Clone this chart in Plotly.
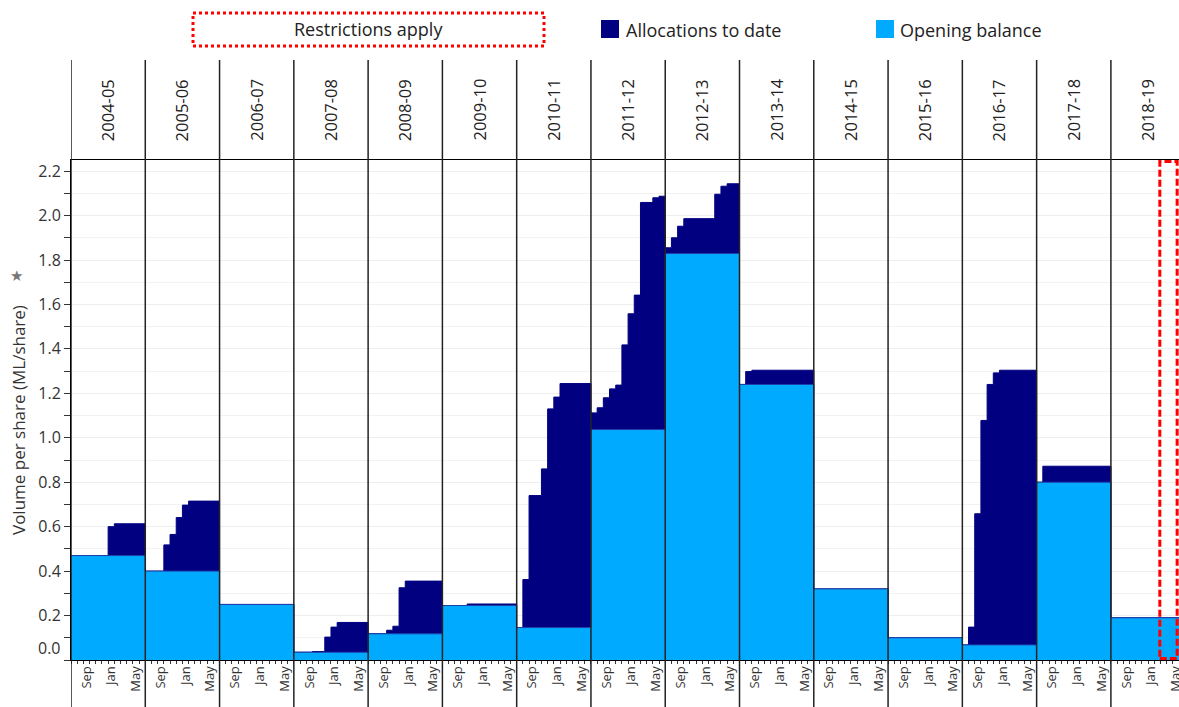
import plotly.graph_objects as go

# ---------------- data ----------------
years = ['2004-05', '2005-06', '2006-07', '2007-08', '2008-09', '2009-10', '2010-11',
         '2011-12', '2012-13', '2013-14', '2014-15', '2015-16', '2016-17', '2017-18', '2018-19']

# opening balance for each water year (ML/share)
opening_balance = [0.47, 0.40, 0.25, 0.035, 0.118, 0.245, 0.146,
                   1.037, 1.829, 1.240, 0.32, 0.10, 0.068, 0.80, 0.19]

# month (0 = Jul) at which each cumulative total step begins, per year
step_month = [
    [0, 6, 7],
    [0, 3, 4, 5, 6, 7],
    [0],
    [0, 3, 5, 6, 7],
    [0, 3, 4, 5, 6],
    [0, 4],
    [0, 1, 2, 4, 5, 6, 7],
    [0, 1, 2, 3, 4, 5, 6, 7, 8, 10, 11],
    [0, 1, 2, 3, 8, 9, 10],
    [0, 1, 2],
    [0],
    [0],
    [0, 1, 2, 3, 4, 5, 6],
    [0, 1],
    [0],
]
# opening balance + allocations to date (ML/share)
step_total = [
    [0.47, 0.600, 0.613],
    [0.40, 0.518, 0.565, 0.641, 0.697, 0.715],
    [0.25],
    [0.035, 0.038, 0.103, 0.148, 0.169],
    [0.118, 0.134, 0.152, 0.325, 0.355],
    [0.245, 0.252],
    [0.146, 0.362, 0.740, 0.860, 1.130, 1.183, 1.244],
    [1.112, 1.135, 1.180, 1.220, 1.237, 1.418, 1.558, 1.642, 2.059, 2.080, 2.087],
    [1.855, 1.900, 1.952, 1.986, 2.096, 2.132, 2.143],
    [1.240, 1.298, 1.304],
    [0.32],
    [0.10],
    [0.068, 0.148, 0.658, 1.078, 1.240, 1.292, 1.304],
    [0.80, 0.872],
    [0.19],
]

month_labels = ['Sep', 'Jan', 'May']
month_label_offsets = [2.5, 6.5, 10.5]   # mid-month position within a Jul-Jun year

y_ticks = [0.2, 0.4, 0.6, 0.8, 1.0, 1.2, 1.4, 1.6, 1.8, 2.0, 2.2]

restriction_start = 175.9   # months from Jul 2004
restriction_end = 178.7

# ---------------- layout constants ----------------
W, H = 1179, 707
ML, MR, MT, MB = 71, 0, 160, 47
PW, PH = W - ML - MR, H - MT - MB
FONT = 'Open Sans, Segoe UI, sans-serif'
NAVY = '#000080'
LIGHT = '#00aaff'
TXT = '#333333'


def px_x(px):
    """page x pixel -> paper x"""
    return (px - ML) / PW


def px_y(py):
    """page y pixel -> paper y"""
    return (H - MB - py) / PH


# ---------------- build step series ----------------
x_total, y_total = [], []
for i, (months, totals) in enumerate(zip(step_month, step_total)):
    for m, t in zip(months, totals):
        x_total.append(12 * i + m)
        y_total.append(t)
x_total.append(12 * len(years))
y_total.append(y_total[-1])

x_open = [12 * i for i in range(len(years))] + [12 * len(years)]
y_open = opening_balance + [opening_balance[-1]]

fig = go.Figure()
fig.add_trace(go.Scatter(
    x=x_total, y=y_total, mode='lines', name='Allocations to date',
    line=dict(shape='hv', color=NAVY, width=1),
    fill='tozeroy', fillcolor=NAVY, showlegend=False))
fig.add_trace(go.Scatter(
    x=x_open, y=y_open, mode='lines', name='Opening balance',
    line=dict(shape='hv', color='#1f3fa8', width=1),
    fill='tozeroy', fillcolor=LIGHT, showlegend=False))

tickvals, ticktext = [], []
for i in range(len(years)):
    for off, lab in zip(month_label_offsets, month_labels):
        tickvals.append(12 * i + off)
        ticktext.append(lab)

fig.update_xaxes(
    range=[0, 179], showgrid=False, zeroline=False, automargin=False,
    showline=True, linecolor='#000000', linewidth=1, mirror=True,
    tickmode='array', tickvals=tickvals, ticktext=ticktext, tickangle=-90,
    ticklabeloverflow='allow',
    ticks='', tickfont=dict(family=FONT, size=13, color=TXT),
    minor=dict(ticks='outside', dtick=1, tick0=0, ticklen=3, tickcolor='#333333',
               tickwidth=1, showgrid=False),
)
fig.update_yaxes(
    range=[0, 2.25], zeroline=False, automargin=False,
    showline=True, linecolor='#000000', linewidth=1,
    tickmode='array', tickvals=[0] + y_ticks,
    ticktext=[''] + ['%.1f' % v for v in y_ticks],
    ticks='outside', ticklen=6, tickcolor='#333333',
    showgrid=True, gridcolor='#eeeeee', gridwidth=1,
    minor=dict(ticks='outside', dtick=0.1, tick0=0, ticklen=6, tickcolor='#333333',
               showgrid=True, gridcolor='#f2f2f2'),
    tickfont=dict(family=FONT, size=16, color=TXT),
)

shapes = []
# year separators running through the header and the month label band
for i in range(len(years)):
    shapes.append(dict(type='line', xref='x', yref='paper', x0=12 * i, x1=12 * i,
                       y0=-MB / PH, y1=px_y(60), layer='above',
                       line=dict(color='#222222', width=1.5)))
# restriction window
shapes.append(dict(type='rect', xref='x', yref='paper', x0=restriction_start,
                   x1=restriction_end, y0=0.003, y1=0.997, layer='above',
                   line=dict(color='#ff0000', width=3, dash='7px,3px')))
# legend: restriction box
shapes.append(dict(type='rect', xref='paper', yref='paper', x0=px_x(193), x1=px_x(544),
                   y0=px_y(46), y1=px_y(13), line=dict(color='#ff0000', width=3, dash='3px,3px')))
# legend squares
shapes.append(dict(type='rect', xref='paper', yref='paper', x0=px_x(601), x1=px_x(619),
                   y0=px_y(38), y1=px_y(20), fillcolor=NAVY, line=dict(width=0)))
shapes.append(dict(type='rect', xref='paper', yref='paper', x0=px_x(876), x1=px_x(894),
                   y0=px_y(38), y1=px_y(20), fillcolor=LIGHT, line=dict(width=0)))

annotations = []
for i, yr in enumerate(years):
    annotations.append(dict(x=12 * i + 6, y=px_y(110), xref='x', yref='paper', text=yr,
                            textangle=-90, showarrow=False, xanchor='center', yanchor='middle',
                            font=dict(family=FONT, size=16.5, color='#222222')))
annotations.append(dict(x=0, y=0, xref='paper', yref='y', text='0.0', showarrow=False,
                        xanchor='right', yanchor='middle', xshift=-8, yshift=12,
                        font=dict(family=FONT, size=16, color=TXT)))
# y-axis title
annotations.append(dict(x=px_x(18), y=px_y(420), xref='paper', yref='paper',
                        text='Volume per share (ML/share)', textangle=-90, showarrow=False,
                        xanchor='center', yanchor='middle',
                        font=dict(family=FONT, size=17, color=TXT)))
# pin marker next to the axis title
annotations.append(dict(x=px_x(16), y=px_y(276), xref='paper', yref='paper',
                        text='\u2605', showarrow=False, xanchor='center', yanchor='middle',
                        font=dict(family='DejaVu Sans', size=15, color='#777777')))
annotations.append(dict(x=px_x(368), y=px_y(29), xref='paper', yref='paper',
                        text='Restrictions apply', showarrow=False,
                        xanchor='center', yanchor='middle',
                        font=dict(family=FONT, size=18, color='#222222')))
annotations.append(dict(x=px_x(624), y=px_y(30), xref='paper', yref='paper',
                        text='Allocations to date', showarrow=False,
                        xanchor='left', yanchor='middle',
                        font=dict(family=FONT, size=18, color='#222222')))
annotations.append(dict(x=px_x(898), y=px_y(30), xref='paper', yref='paper',
                        text='Opening balance', showarrow=False,
                        xanchor='left', yanchor='middle',
                        font=dict(family=FONT, size=18, color='#222222')))

fig.update_layout(
    width=W, height=H, margin=dict(l=ML, r=MR, t=MT, b=MB, pad=0),
    paper_bgcolor='#ffffff', plot_bgcolor='#ffffff',
    showlegend=False, shapes=shapes, annotations=annotations,
    font=dict(family=FONT, color=TXT),
)

# remove the default page margin so the figure fills the window exactly
fig.write_html('out.html', config={'displayModeBar': False},
               post_script="document.body.style.margin='0';document.body.style.overflow='hidden';")
